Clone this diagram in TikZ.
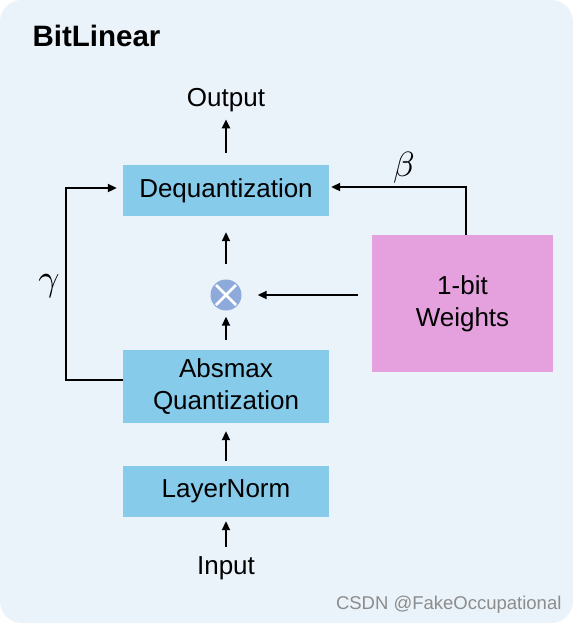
\documentclass[tikz,border=0pt]{standalone}
\usepackage{fontspec}
\usepackage{graphicx}
\setmainfont{Liberation Sans}
\usetikzlibrary{arrows.meta,calc}
\begin{document}
\begin{tikzpicture}[x=1pt,y=-1pt,
  lbl/.style={font=\fontsize{26}{31}\selectfont, text=black},
  bluebox/.style={fill=boxblue, draw=none, minimum width=206pt, inner sep=0pt, align=center, lbl},
  arr/.style={-{Triangle[length=9pt,width=8pt]}, line width=2pt, black},
  greek/.style={inner sep=0pt}]
\definecolor{bg}{HTML}{EAF2FA}
\definecolor{boxblue}{HTML}{87CBEB}
\definecolor{pinkbox}{HTML}{E5A0DE}
\definecolor{otc}{HTML}{8EAADB}
\useasboundingbox (0,0) rectangle (577,625);
\fill[white] (0,0) rectangle (577,625);
\fill[bg, rounded corners=22pt] (0,0) rectangle (573,623);

\node[anchor=west, font=\fontsize{29.5}{34}\selectfont\bfseries] (title) at (29,36) {BitLinear};

\node[bluebox, minimum height=51pt] (deq) at (226,190.5) {Dequantization};
\node[bluebox, minimum height=73pt, font=\fontsize{26}{32}\selectfont] (absq) at (226,386.5) {Absmax\\Quantization};
\node[bluebox, minimum height=51pt] (ln) at (226,491.5) {LayerNorm};
\node[fill=pinkbox, minimum width=181pt, minimum height=137pt, inner sep=0pt, align=center, lbl, font=\fontsize{26}{32}\selectfont] (w) at (462.5,303.5) {1-bit\\Weights};

\node[lbl] (out) at (226,100) {Output};
\node[lbl] (in) at (226,568) {Input};

\node[circle, fill=otc, minimum size=31pt, inner sep=0pt] (mul) at (226,295) {};
\draw[white, line width=2.5pt] ($(mul.center)+(-10,-10)$) -- ($(mul.center)+(10,10)$);
\draw[white, line width=2.5pt] ($(mul.center)+(-10,10)$) -- ($(mul.center)+(10,-10)$);

\coordinate (gl) at (66,380);
\coordinate (gt) at (66,188);
\coordinate (bt) at (466,187);
\coordinate (wa) at (358,295);

\draw[arr] ($(deq.north)+(0,-12)$) -- ($(out.south)+(0,4)$);
\draw[arr] ($(mul.north)+(0,-15)$) -- ($(deq.south)+(0,16)$);
\draw[arr] ($(absq.north)+(0,-10)$) -- ($(mul.south)+(0,6)$);
\draw[arr] ($(ln.north)+(0,-5)$) -- ($(absq.south)+(0,8)$);
\draw[arr] ($(in.north)+(0,-6)$) -- ($(ln.south)+(0,4)$);
\draw[arr] (wa) -- ($(mul.east)+(16,0)$);
\draw[arr] (absq.west |- gl) -- (gl) -- (gt) -- ($(deq.west |- gt)+(-6,0)$);
\draw[arr] (bt |- w.north) -- (bt) -- ($(deq.east |- bt)+(2,0)$);

\node[greek] (gam) at (49,286) {\scalebox{3.7}{$\gamma$}};
\node[greek] (bet) at (404,168) {\scalebox{3.5}{$\beta$}};

\node[anchor=east, font=\fontsize{18.5}{22}\selectfont, text=black!45] (wm) at (565,605) {CSDN @FakeOccupational};
\end{tikzpicture}
\end{document}
